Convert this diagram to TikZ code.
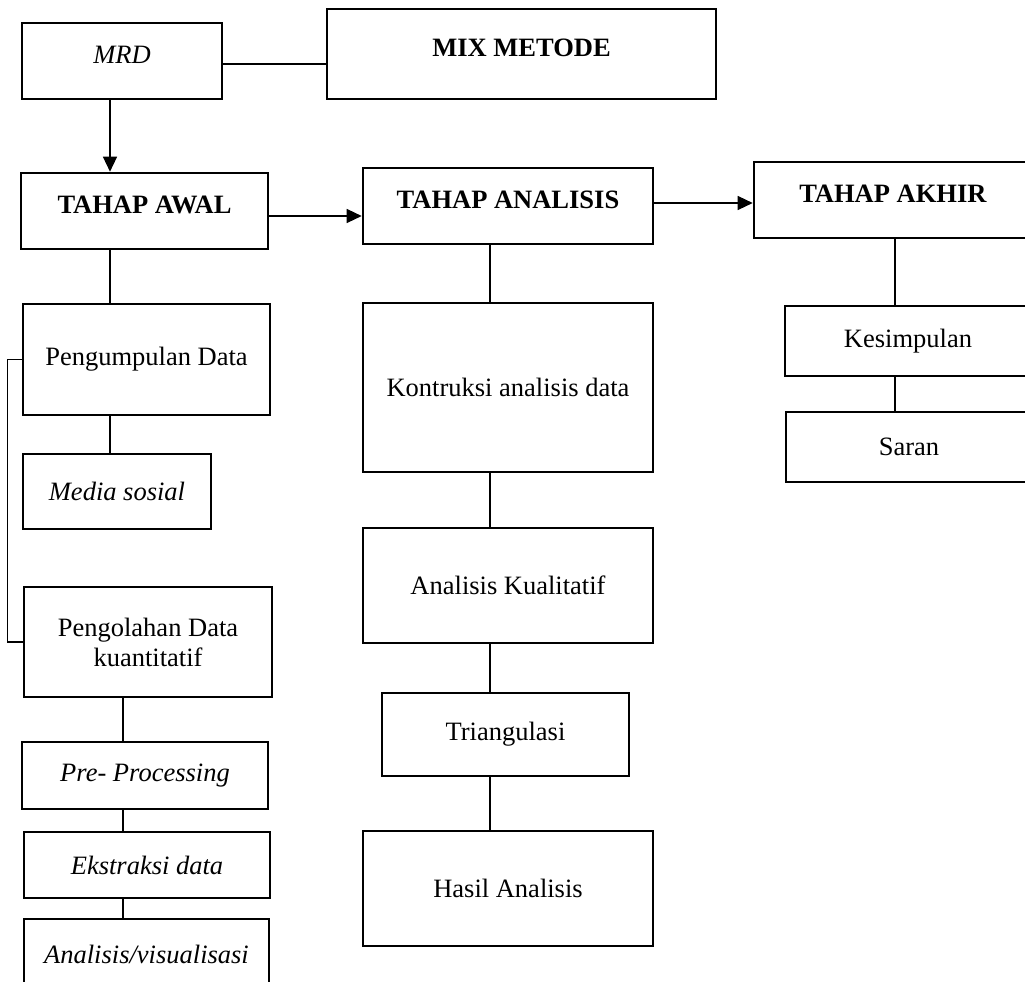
\documentclass[tikz,border=0pt]{standalone}
\usepackage{fontspec}
\setmainfont{Liberation Serif}
\usetikzlibrary{arrows.meta}

\tikzset{
  box/.style={draw, line width=2.6pt, inner sep=0pt, align=center,
    font=\fontsize{26.5}{30}\selectfont},
  head/.style={box, text height=17.5pt, text depth=13pt},
  link/.style={line width=1.3pt},
  arrowlink/.style={link, -{Triangle[length=15pt,width=14pt]}}
}

\begin{document}
\begin{tikzpicture}[x=1pt,y=-1pt]
  \useasboundingbox (0,0) rectangle (1025,982);
  \clip (0,0) rectangle (1025,982);

  % Draw the top boxes
  \node[head, minimum width=200pt, minimum height=76pt] (mrd) at (122,61) {\textit{MRD}};
  \node[head, minimum width=389pt, minimum height=90pt] (mix) at (521.5,54) {\textbf{MIX METODE}};

  % Draw the three stages
  \node[head, minimum width=247pt, minimum height=76pt] (awal) at (144.5,211) {\textbf{TAHAP AWAL}};
  \node[head, minimum width=290pt, minimum height=76pt] (analisis) at (508,206) {\textbf{TAHAP ANALISIS}};
  \node[head, minimum width=278pt, minimum height=76pt] (akhir) at (893,200) {\textbf{TAHAP AKHIR}};

  % Left column
  \node[box, minimum width=247pt, minimum height=111pt] (kumpul) at (146.5,359.5) {Pengumpulan Data};
  \node[box, minimum width=188pt, minimum height=75pt] (medsos) at (117,491.5) {\textit{Media sosial}};
  \node[box, minimum width=248pt, minimum height=110pt] (olah) at (148,642) {Pengolahan Data\\kuantitatif};
  \node[box, minimum width=246pt, minimum height=67pt] (prepro) at (145,775.5) {\textit{Pre- Processing}};
  \node[box, minimum width=246pt, minimum height=66pt] (ekstrak) at (147,865) {\textit{Ekstraksi data}};
  \node[box, minimum width=245pt, minimum height=70pt] (visual) at (146.5,954) {\textit{Analisis/visualisasi}};

  % Middle column
  \node[box, minimum width=290pt, minimum height=169pt] (kontruksi) at (508,387.5) {Kontruksi analisis data};
  \node[box, minimum width=290pt, minimum height=115pt] (kualitatif) at (508,585.5) {Analisis Kualitatif};
  \node[box, minimum width=247pt, minimum height=83pt] (triang) at (505.5,734.5) {Triangulasi};
  \node[box, minimum width=290pt, minimum height=115pt] (hasil) at (508,888.5) {Hasil Analisis};

  % Right column
  \node[box, minimum width=246pt, minimum height=70pt] (kesimpulan) at (908,341) {Kesimpulan};
  \node[box, minimum width=246pt, minimum height=70pt] (saran) at (909,447) {Saran};

  % x positions of the vertical links
  \coordinate (colA) at (110,0);
  \coordinate (colB) at (123,0);
  \coordinate (colC) at (490,0);
  \coordinate (colD) at (895,0);

  % Links between the top boxes and stages
  \draw[link] ([yshift=-3pt]mrd.east) -- ([yshift=-3pt]mrd.east -| mix.west);
  \draw[arrowlink] (mrd.south -| colA) -- (awal.north -| colA);
  \draw[arrowlink] ([yshift=-5pt]awal.east) -- ([yshift=-5pt]awal.east -| analisis.west);
  \draw[arrowlink] ([yshift=3pt]analisis.east) -- ([yshift=3pt]analisis.east -| akhir.west);

  % Left column links
  \draw[link] (awal.south -| colA) -- (kumpul.north -| colA);
  \draw[link] (kumpul.south -| colA) -- (medsos.north -| colA);
  \draw[link] (kumpul.west) -- ++(-14,0) |- (olah.west);
  \foreach \a/\b in {olah/prepro, prepro/ekstrak, ekstrak/visual}
    \draw[link] (\a.south -| colB) -- (\b.north -| colB);

  % Middle column links
  \foreach \a/\b in {analisis/kontruksi, kontruksi/kualitatif, kualitatif/triang, triang/hasil}
    \draw[link] (\a.south -| colC) -- (\b.north -| colC);

  % Right column links
  \foreach \a/\b in {akhir/kesimpulan, kesimpulan/saran}
    \draw[link] (\a.south -| colD) -- (\b.north -| colD);
\end{tikzpicture}
\end{document}
